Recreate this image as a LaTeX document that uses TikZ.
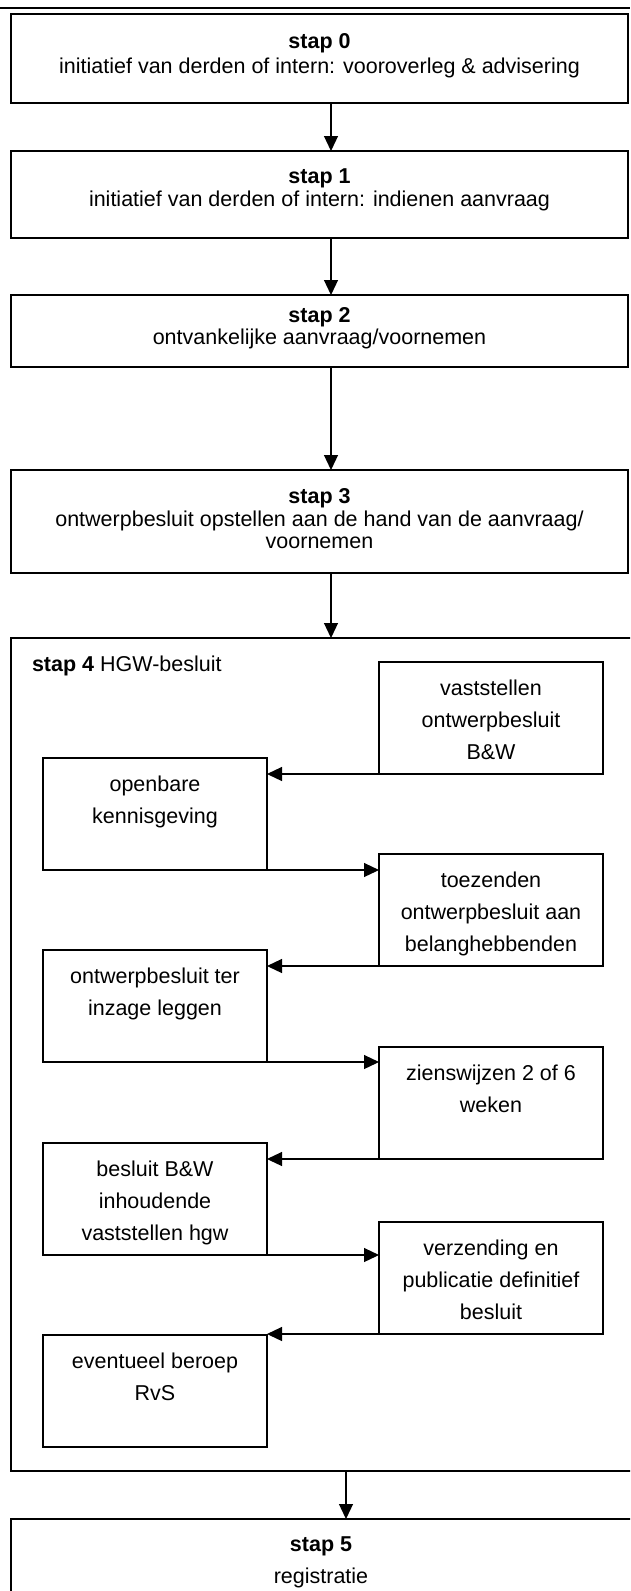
\documentclass[tikz,border=0pt]{standalone}
\usepackage{fontspec}
\setmainfont{Liberation Sans}
\usetikzlibrary{arrows.meta,calc}
\tikzset{
  outerbox/.style={draw=black, line width=1.8pt, anchor=north west, inner sep=0pt, outer sep=0pt},
  innerbox/.style={draw=black, line width=1.2pt, anchor=north west, inner sep=0pt, outer sep=0pt,
                   minimum width=224pt, minimum height=112pt},
  txt/.style={anchor=base, inner sep=0pt, outer sep=0pt, font=\fontsize{21.5}{25}\selectfont},
  conn/.style={draw=black, line width=1.2pt, -{Triangle[length=15pt,width=14pt]}},
  rule/.style={draw=black, line width=2pt}
}
\begin{document}
\begin{tikzpicture}[x=1pt,y=-1pt]
\useasboundingbox (0,0) rectangle (630,1591);
\clip (0,0) rectangle (630,1591);
% top rule
\coordinate (tl) at (0,7.5);
\coordinate (tr) at (630,7.5);
\draw[rule] (tl) -- (tr);
% main column boxes
\node[outerbox, minimum width=617pt, minimum height=89pt]  (b0) at (11,14)  {};
\node[outerbox, minimum width=617pt, minimum height=87pt]  (b1) at (11,151) {};
\node[outerbox, minimum width=617pt, minimum height=72pt]  (b2) at (11,295) {};
\node[outerbox, minimum width=617pt, minimum height=103pt] (b3) at (11,470) {};
\node[outerbox, minimum width=640pt, minimum height=833pt] (b4) at (11,638) {};
\node[outerbox, minimum width=640pt, minimum height=120pt] (b5) at (11,1519) {};
% texts of main boxes
\node[txt] (b0a) at ($(b0.north)+(0,34)$) {\textbf{stap 0}};
\node[txt] (b0b) at ($(b0.north)+(0,59)$) {initiatief van derden of intern: vooroverleg \& advisering};
\node[txt] (b1a) at ($(b1.north)+(0,32)$) {\textbf{stap 1}};
\node[txt] (b1b) at ($(b1.north)+(0,55)$) {initiatief van derden of intern: indienen aanvraag};
\node[txt] (b2a) at ($(b2.north)+(0,27)$) {\textbf{stap 2}};
\node[txt] (b2b) at ($(b2.north)+(0,49)$) {ontvankelijke aanvraag/voornemen};
\node[txt] (b3a) at ($(b3.north)+(0,33)$) {\textbf{stap 3}};
\node[txt] (b3b) at ($(b3.north)+(0,56)$) {ontwerpbesluit opstellen aan de hand van de aanvraag/};
\node[txt] (b3c) at ($(b3.north)+(0,78)$) {voornemen};
\node[txt, anchor=base west] (b4a) at ($(b4.north west)+(21,33)$) {\textbf{stap 4} HGW-besluit};
\node[txt] (b5a) at ($(b5.north west)+(310,32)$) {\textbf{stap 5}};
\node[txt] (b5b) at ($(b5.north west)+(310,64)$) {registratie};
% inner boxes
\node[innerbox] (r1) at (379,662)  {};
\node[innerbox] (l1) at (43,758)   {};
\node[innerbox] (r2) at (379,854)  {};
\node[innerbox] (l2) at (43,950)   {};
\node[innerbox] (r3) at (379,1047) {};
\node[innerbox] (l3) at (43,1143)  {};
\node[innerbox] (r4) at (379,1222) {};
\node[innerbox] (l4) at (43,1335)  {};
% inner texts
\node[txt] (r1a) at ($(r1.north)+(0,33)$) {vaststellen};
\node[txt] (r1b) at ($(r1.north)+(0,65)$) {ontwerpbesluit};
\node[txt] (r1c) at ($(r1.north)+(0,97)$) {B\&W};
\node[txt] (l1a) at ($(l1.north)+(0,33)$) {openbare};
\node[txt] (l1b) at ($(l1.north)+(0,65)$) {kennisgeving};
\node[txt] (r2a) at ($(r2.north)+(0,33)$) {toezenden};
\node[txt] (r2b) at ($(r2.north)+(0,65)$) {ontwerpbesluit aan};
\node[txt] (r2c) at ($(r2.north)+(0,97)$) {belanghebbenden};
\node[txt] (l2a) at ($(l2.north)+(0,33)$) {ontwerpbesluit ter};
\node[txt] (l2b) at ($(l2.north)+(0,65)$) {inzage leggen};
\node[txt] (r3a) at ($(r3.north)+(0,33)$) {zienswijzen 2 of 6};
\node[txt] (r3b) at ($(r3.north)+(0,65)$) {weken};
\node[txt] (l3a) at ($(l3.north)+(0,33)$) {besluit B\&W};
\node[txt] (l3b) at ($(l3.north)+(0,65)$) {inhoudende};
\node[txt] (l3c) at ($(l3.north)+(0,97)$) {vaststellen hgw};
\node[txt] (r4a) at ($(r4.north)+(0,33)$) {verzending en};
\node[txt] (r4b) at ($(r4.north)+(0,65)$) {publicatie definitief};
\node[txt] (r4c) at ($(r4.north)+(0,97)$) {besluit};
\node[txt] (l4a) at ($(l4.north)+(0,33)$) {eventueel beroep};
\node[txt] (l4b) at ($(l4.north)+(0,65)$) {RvS};
% main column connectors
\coordinate (cx) at (331,0);
\coordinate (cy) at (346,0);
\draw[conn] (cx |- b0.south) -- (cx |- b1.north);
\draw[conn] (cx |- b1.south) -- (cx |- b2.north);
\draw[conn] (cx |- b2.south) -- (cx |- b3.north);
\draw[conn] (cx |- b3.south) -- (cx |- b4.north);
\draw[conn] (cy |- b4.south) -- (cy |- b5.north);
% inner connectors
\draw[conn] ($(r1.south west)+(33,0)$) -- (r1.south west -| l1.east);
\draw[conn] ($(l1.south east)+(-32,0)$) -- (l1.south east -| r2.west);
\draw[conn] ($(r2.south west)+(33,0)$) -- (r2.south west -| l2.east);
\draw[conn] ($(l2.south east)+(-32,0)$) -- (l2.south east -| r3.west);
\draw[conn] ($(r3.south west)+(33,0)$) -- (r3.south west -| l3.east);
\draw[conn] ($(l3.south east)+(-32,0)$) -- (l3.south east -| r4.west);
\draw[conn] ($(r4.south west)+(33,0)$) -- (r4.south west -| l4.east);
\end{tikzpicture}
\end{document}
